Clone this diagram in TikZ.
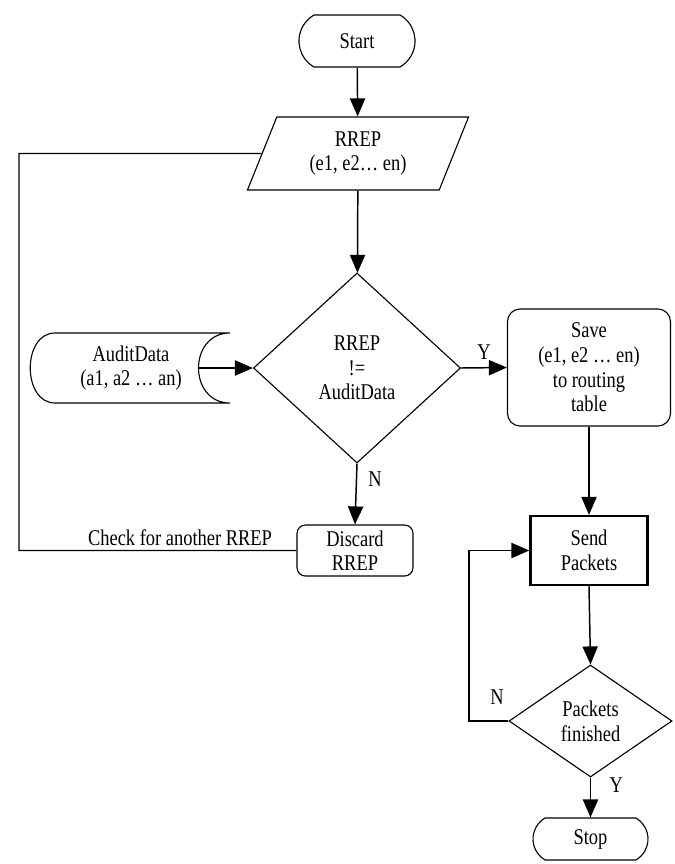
\documentclass[tikz,border=0pt]{standalone}
\usepackage{fontspec}
\setmainfont[FakeStretch=0.82]{Liberation Serif}
\usetikzlibrary{positioning, arrows.meta, shapes.geometric, shapes.misc}

\begin{document}
\begin{tikzpicture}[
    x=0.025cm, y=-0.025cm,
    font=\fontsize{16}{17.5}\selectfont,
    lbl/.style={inner sep=1pt},
    term/.style={
        draw=black, line width=0.8pt, rounded rectangle,
        rounded rectangle arc length=120,
        minimum width=2.9cm, minimum height=1.3cm, inner sep=0pt
    },
    io/.style={
        draw=black, line width=0.8pt, trapezium,
        trapezium left angle=58, trapezium right angle=122,
        trapezium stretches body,
        minimum width=5.525cm, minimum height=1.825cm,
        inner sep=1pt, align=center
    },
    decision/.style={
        draw=black, line width=0.8pt, diamond, inner sep=0pt,
        align=center
    },
    proc/.style={
        draw=black, line width=0.8pt, rounded corners=6pt,
        inner sep=2pt, align=center
    },
    arrow/.style={-{Triangle[length=4.5mm, width=3.8mm]}, line width=1.05pt}
]
\useasboundingbox (0,0) rectangle (675,864);

%%%%%%%%%%%%%%%%%%%%%
% Main column
%%%%%%%%%%%%%%%%%%%%%
\node[term] (start) at (357,41) {Start};
\node[io] (rrep) at (358,153.5) {RREP\\(e1, e2\dots\ en)};
\node[decision, minimum width=5.175cm, minimum height=4.75cm] (test) at (357,368)
    {RREP\\!=\\AuditData};
\node[proc, minimum width=2.9cm, minimum height=1.275cm] (discard) at (355,550.5)
    {Discard\\RREP};

% Stored audit data
\draw[line width=0.8pt] (230,333) -- (55,333)
    .. controls (22,333) and (22,403) .. (55,403) -- (230,403)
    .. controls (188,403) and (188,333) .. (230,333);
\node[lbl, align=center] (audit) at (131,368) {AuditData\\(a1, a2 \dots\ an)};
\coordinate (auditout) at (198,368);

%%%%%%%%%%%%%%%%%%%%%
% Right column
%%%%%%%%%%%%%%%%%%%%%
\node[proc, rounded corners=9pt, minimum width=4.075cm, minimum height=2.925cm] (save)
    at (589,367.5) {Save\\(e1, e2 \dots\ en)\\to routing\\table};
\node[proc, rounded corners=0pt, line width=1.6pt, minimum width=2.925cm, minimum height=1.725cm]
    (send) at (589,550.5) {Send\\Packets};
\node[decision, minimum width=4.075cm, minimum height=2.8cm] (fin) at (590.5,721)
    {Packets\\finished};
\node[term, minimum width=2.875cm, minimum height=1.05cm] (stop) at (590.5,839) {Stop};

% Labels
\node[lbl] (check) at (180,538) {Check for another RREP};
\node[lbl] (nfin) at (497,697) {N};

%%%%%%%%%%%%%%%%%%%%%
% Connectors
%%%%%%%%%%%%%%%%%%%%%
\coordinate (loopL) at (19,153.5);
\coordinate (loopR) at (469,721);

\draw[arrow] (start) -- (rrep);
\draw[arrow] (rrep) -- (test);
\draw[arrow] (auditout) -- (test.west);
\draw[arrow] (test.east) -- node[lbl, above=4pt] (ytest) {Y} (save.west);
\draw[arrow] (test.south) -- node[lbl, pos=0.25, right=7pt] (ntest) {N} (discard.north);
\draw[line width=0.8pt] (discard.west) -| (loopL) -- (rrep.west);
\draw[arrow] (save.south) -- (send.north);
\draw[arrow] (send.south) -- (fin.north);
\draw[arrow] (fin.west) -- (loopR) |- (send.west);
\draw[arrow] (fin.south) -- node[lbl, pos=0.2, right=12pt] (yfin) {Y} (stop.north);

\end{tikzpicture}
\end{document}
